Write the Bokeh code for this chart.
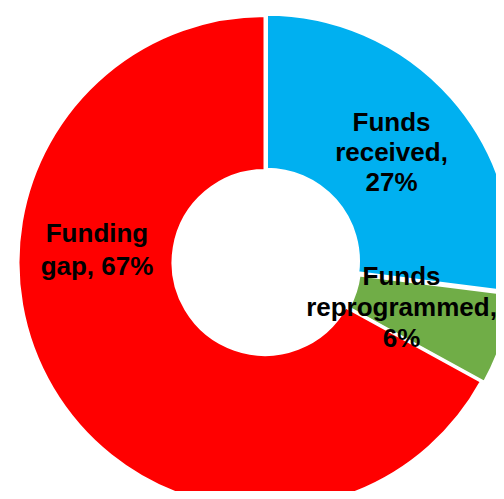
import numpy as np
from bokeh.plotting import figure
from bokeh.models import Range1d, ColumnDataSource
from bokeh.core.properties import value
from bokeh.embed import file_html
from bokeh.resources import INLINE

# ---- data ----
categories = ["Funds received", "Funds reprogrammed", "Funding gap"]
shares = [27, 6, 67]
labels = ["Funds\nreceived,\n27%", "Funds\nreprogrammed,\n6%", "Funding\ngap, 67%"]
colors = ["#00B0F0", "#70AD47", "#FF0000"]

# ---- layout (pixels, y measured from bottom of the frame) ----
W, H = 496, 491
cx, cy = 264.5, 229.0
r_out, r_in = 247, 92
explode = [2.0, 3.0, 0.0]
label_x = [391, 401, 96.5]
label_y = [339.5, 184.5, 242]
label_lh = [1.0, 1.02, 1.08]

vals = np.array(shares, dtype=float)
frac = vals / vals.sum()
cum = np.concatenate([[0], np.cumsum(frac)])
# clockwise from 12 o'clock
a_start_cw = np.pi / 2 - 2 * np.pi * cum[:-1]
a_end_cw = np.pi / 2 - 2 * np.pi * cum[1:]
mid = (a_start_cw + a_end_cw) / 2

xs = [cx + e * np.cos(m) for e, m in zip(explode, mid)]
ys = [cy + e * np.sin(m) for e, m in zip(explode, mid)]

src = ColumnDataSource(dict(
    x=xs, y=ys,
    start=list(a_end_cw), end=list(a_start_cw),
    color=colors, cat=categories,
))

p = figure(width=W, height=H, output_backend="svg", toolbar_location=None,
           x_range=Range1d(0, W), y_range=Range1d(0, H),
           x_axis_type=None, y_axis_type=None, min_border=0,
           background_fill_color="white", border_fill_color="white")
p.outline_line_color = None
p.xgrid.visible = False
p.ygrid.visible = False

p.annular_wedge(x="x", y="y", inner_radius=r_in, outer_radius=r_out,
                start_angle="start", end_angle="end", source=src,
                fill_color="color", line_color="white", line_width=3)

for lx, ly, lt, lh in zip(label_x, label_y, labels, label_lh):
    p.text(x=[lx], y=[ly], text=[lt],
           text_font=value("Liberation Sans"), text_font_style="bold",
           text_font_size="26px", text_color="black",
           text_align="center", text_baseline="middle", text_line_height=lh)

open("out.html", "w").write(file_html(p, INLINE))
